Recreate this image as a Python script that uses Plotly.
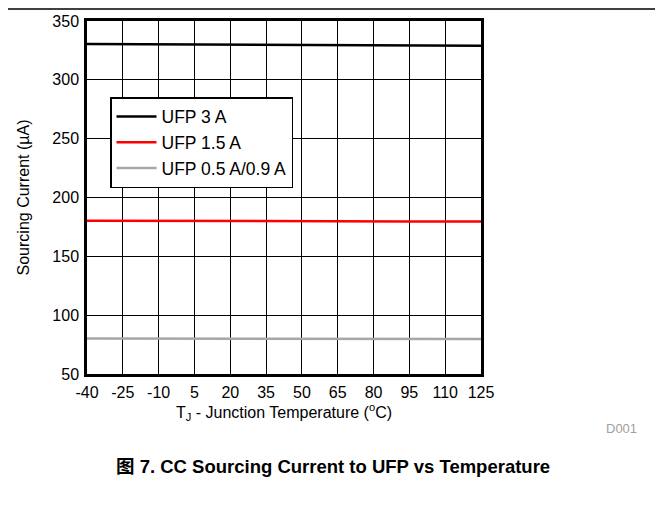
import plotly.graph_objects as go

temps = [-40, -25, -10, 5, 20, 35, 50, 65, 80, 95, 110, 125]
ufp_3a = [330.5, 330.4, 330.3, 330.3, 330.2, 330.0, 329.9, 329.7, 329.5, 329.3, 329.2, 329.0]
ufp_1p5a = [180.3, 180.3, 180.2, 180.2, 180.1, 180.0, 180.0, 179.9, 179.8, 179.7, 179.6, 179.5]
ufp_0p5a = [80.2, 80.2, 80.1, 80.1, 80.1, 80.0, 80.0, 80.0, 79.9, 79.9, 79.9, 79.8]
series_names = ["UFP 3 A", "UFP 1.5 A", "UFP 0.5 A/0.9 A"]
series_colors = ["#000000", "#ff0000", "#a6a6a6"]
x_ticks = temps
y_ticks = [50, 100, 150, 200, 250, 300, 350]

FONT = "Liberation Sans, Arial, Noto Sans CJK SC, sans-serif"

fig = go.Figure()
for name, vals, col in zip(series_names, [ufp_3a, ufp_1p5a, ufp_0p5a], series_colors):
    fig.add_trace(go.Scatter(x=temps, y=vals, mode="lines", name=name,
                             line=dict(color=col, width=2.5)))

OFF = 8  # page body margin
W, H = 663 - OFF, 508 - OFF
L, R, T, B = 87 - OFF, 481 - OFF, 21 - OFF, 374 - OFF
pw, ph = R - L, B - T

def px(x):
    return (x - OFF - L) / pw

def py(y):
    return (B - (y - OFF)) / ph

fig.update_layout(
    width=W, height=H,
    margin=dict(l=L, r=W - R, t=T, b=H - B, pad=0, autoexpand=False),
    paper_bgcolor="white", plot_bgcolor="white",
    font=dict(family=FONT, size=16, color="black"),
    showlegend=True,
    legend=dict(x=px(110), y=py(97), xanchor="left", yanchor="top",
                bgcolor="white", bordercolor="black", borderwidth=1.5,
                font=dict(size=17.5, family=FONT), tracegroupgap=0,
                itemwidth=40),
)
fig.update_xaxes(range=[-40, 125], tickvals=x_ticks, ticktext=[str(v) for v in x_ticks],
                 showgrid=True, gridcolor="#000000", gridwidth=1,
                 showline=True, linecolor="black", linewidth=2.5, mirror=True,
                 ticks="", ticklen=0, zeroline=False, ticklabelstandoff=2,
                 automargin=False,
                 tickfont=dict(size=16),
                 title=dict(text="T<sub>J</sub> - Junction Temperature (<sup>o</sup>C)",
                            font=dict(size=16), standoff=3))
fig.update_yaxes(range=[50, 350], tickvals=y_ticks,
                 showgrid=True, gridcolor="#000000", gridwidth=1,
                 showline=True, linecolor="black", linewidth=2.5, mirror=True,
                 ticks="", ticklen=0, zeroline=False, ticklabelstandoff=2,
                 automargin=False,
                 tickfont=dict(size=16),
                 title=dict(text="Sourcing Current (µA)", font=dict(size=16), standoff=19))

# top rule
fig.add_shape(type="line", xref="paper", yref="paper",
              x0=px(0), x1=px(663), y0=py(9), y1=py(9),
              line=dict(color="black", width=1.5))

fig.add_annotation(text="D001", xref="paper", yref="paper",
                   x=px(621), y=py(428), showarrow=False,
                   font=dict(size=13, color="#a0a0a0"), xanchor="center", yanchor="middle")
fig.add_annotation(text="<b>图 7. CC Sourcing Current to UFP vs Temperature</b>",
                   xref="paper", yref="paper",
                   x=px(333), y=py(467), showarrow=False,
                   font=dict(size=18.5, color="black"), xanchor="center", yanchor="middle")

fig.write_html("out.html")
